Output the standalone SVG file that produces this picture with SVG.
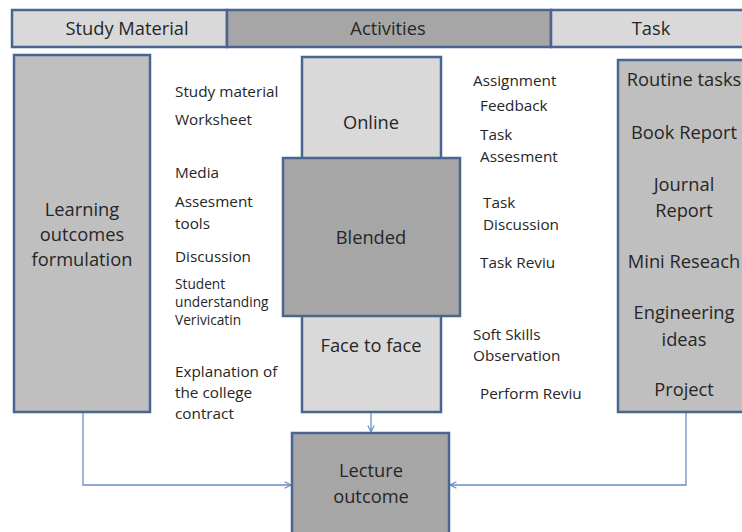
<svg xmlns="http://www.w3.org/2000/svg" width="742" height="532" viewBox="0 0 742 532">
<style>
text{font-family:"Open Sans","Liberation Sans",sans-serif;fill:#262626}
.b{stroke:#4a6690;stroke-width:2.5}
.l{fill:#d9d9d9}.m{fill:#bfbfbf}.d{fill:#a6a6a6}
.big{font-size:18.3px;text-anchor:middle}
.sm{font-size:15.3px}
.xs{font-size:13.7px}
.c{fill:none;stroke:#6b8fc4;stroke-width:1.3}
</style>
<defs><marker id="ah" viewBox="0 0 10 10" refX="9" refY="5" markerWidth="8" markerHeight="8" orient="auto" markerUnits="userSpaceOnUse"><path d="M1,1 L9,5 L1,9" fill="none" stroke="#6b8fc4" stroke-width="1.5"/></marker></defs>
<g id="header">
<rect class="b l" x="12" y="10" width="215" height="37"/>
<rect class="b d" x="227" y="10" width="324" height="37"/>
<rect class="b l" x="551" y="10" width="200" height="37"/>
<text class="big" x="127" y="35">Study Material</text>
<text class="big" x="388" y="35">Activities</text>
<text class="big" x="651" y="35">Task</text>
</g>
<g id="connectors">
<polyline class="c" points="83,413 83,485 291,485" marker-end="url(#ah)"/>
<polyline class="c" points="371,413 371,432" marker-end="url(#ah)"/>
<polyline class="c" points="686,413 686,485 450,485" marker-end="url(#ah)"/>
</g>
<g id="learning">
<rect class="b m" x="14" y="55" width="136" height="357"/>
<text class="big" x="82" y="216">Learning</text>
<text class="big" x="82" y="241">outcomes</text>
<text class="big" x="82" y="266">formulation</text>
</g>
<g id="online-face">
<rect class="b l" x="302" y="57" width="139" height="355"/>
<text class="big" x="371" y="129">Online</text>
<text class="big" x="371" y="352">Face to face</text>
</g>
<g id="blended">
<rect class="b d" x="283" y="158" width="177" height="158"/>
<text class="big" x="371" y="244">Blended</text>
</g>
<g id="lecture">
<rect class="b d" x="292" y="433" width="157" height="105"/>
<text class="big" x="371" y="477">Lecture</text>
<text class="big" x="371" y="503">outcome</text>
</g>
<g id="task">
<rect class="b m" x="618" y="60" width="140" height="352"/>
<text class="big" x="684" y="86">Routine tasks</text>
<text class="big" x="684" y="139">Book Report</text>
<text class="big" x="684" y="191">Journal</text>
<text class="big" x="684" y="217">Report</text>
<text class="big" x="684" y="268">Mini Reseach</text>
<text class="big" x="684" y="319">Engineering</text>
<text class="big" x="684" y="346">ideas</text>
<text class="big" x="684" y="396">Project</text>
</g>
<g id="study-items">
<text class="sm" x="175" y="97">Study material</text>
<text class="sm" x="175" y="125">Worksheet</text>
<text class="sm" x="175" y="178">Media</text>
<text class="sm" x="175" y="207">Assesment</text>
<text class="sm" x="175" y="229">tools</text>
<text class="sm" x="175" y="262">Discussion</text>
<text class="xs" x="175" y="289">Student</text>
<text class="xs" x="175" y="307">understanding</text>
<text class="xs" x="175" y="325">Verivicatin</text>
<text class="sm" x="175" y="377">Explanation of</text>
<text class="sm" x="175" y="398">the college</text>
<text class="sm" x="175" y="419">contract</text>
</g>
<g id="activity-items">
<text class="sm" x="473" y="86">Assignment</text>
<text class="sm" x="480" y="111">Feedback</text>
<text class="sm" x="480" y="140">Task</text>
<text class="sm" x="480" y="162">Assesment</text>
<text class="sm" x="483" y="208">Task</text>
<text class="sm" x="483" y="230">Discussion</text>
<text class="sm" x="480" y="268">Task Reviu</text>
<text class="sm" x="473" y="340">Soft Skills</text>
<text class="sm" x="473" y="361">Observation</text>
<text class="sm" x="480" y="399">Perform Reviu</text>
</g>
</svg>
